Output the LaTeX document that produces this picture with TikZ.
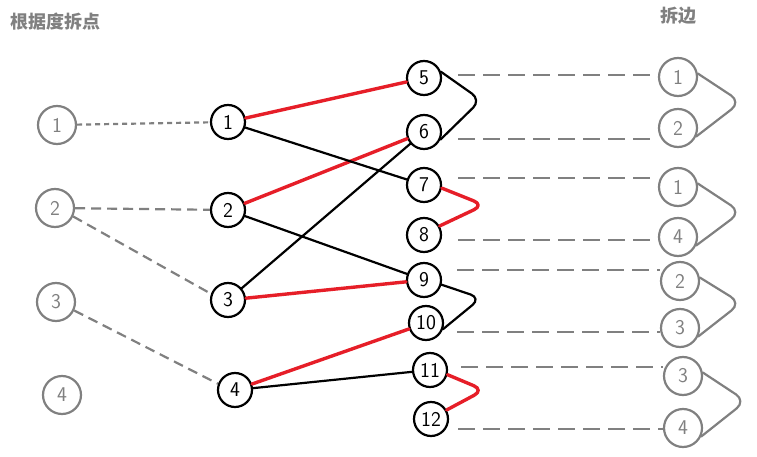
\documentclass[tikz,border=0pt]{standalone}
\usepackage{fontspec}
\newfontfamily\cjk{Noto Sans CJK SC}
\usetikzlibrary{positioning}

\definecolor{penGray}{RGB}{128,128,128}
\definecolor{penRed}{RGB}{230,30,40}

\begin{document}
\begin{tikzpicture}[x=1pt,y=-1pt,line cap=round,line join=round,
    every node/.style={font=\sffamily\fontsize{21}{21}\selectfont},
    blk/.style={circle, draw, line width=2.2pt, minimum size=34pt, inner sep=0pt},
    gry/.style={circle, draw=penGray, text=penGray, line width=2.2pt, minimum size=38pt, inner sep=0pt},
    redline/.style={draw=penRed, line width=3.4pt},
    blkline/.style={draw=black, line width=2.2pt},
    grayline/.style={draw=penGray, line width=2.2pt},
    dashline/.style={draw=penGray, line width=2.6pt, line cap=butt, dash pattern=on 17pt off 8pt},
    title/.style={font=\cjk\bfseries\fontsize{18}{18}\selectfont, text=penGray},
]
    \useasboundingbox (0,0) rectangle (757,457);

    % titles
    \node [title, anchor=west, inner sep=0pt] (t1) at (10,22) {根据度拆点};
    \node [title] (t2) at (678,16) {拆边};

    % left: original points
    \node [gry] (l1) at (57,125) {1};
    \node [gry] (l2) at (55,208) {2};
    \node [gry] (l3) at (56,302) {3};
    \node [gry] (l4) at (62,395) {4};

    % middle
    \node [blk] (m1) at (228,122) {1};
    \node [blk] (m2) at (228,210) {2};
    \node [blk] (m3) at (228,300) {3};
    \node [blk] (m4) at (235,390) {4};

    % split points
    \node [blk] (s5) at (424,78) {5};
    \node [blk] (s6) at (424,132) {6};
    \node [blk] (s7) at (424,185) {7};
    \node [blk] (s8) at (424,235) {8};
    \node [blk] (s9) at (424,280) {9};
    \node [blk] (s10) at (426,323) {10};
    \node [blk] (s11) at (430,370) {11};
    \node [blk] (s12) at (431,419) {12};

    % split edges
    \node [gry] (e1) at (678,77) {1};
    \node [gry] (e2) at (678,128) {2};
    \node [gry] (e3) at (678,187) {1};
    \node [gry] (e4) at (678,237) {4};
    \node [gry] (e5) at (680,281) {2};
    \node [gry] (e6) at (680,328) {3};
    \node [gry] (e7) at (683,376) {3};
    \node [gry] (e8) at (683,428) {4};

    % left dashed links
    \draw [grayline, line cap=butt, dash pattern=on 5pt off 4pt] (l1) -- (m1);
    \draw [grayline, line cap=butt, dash pattern=on 10pt off 6pt] (l2) -- (m2);
    \draw [grayline, line cap=butt, dash pattern=on 10pt off 6pt] (l2.-25) -- (m3.160);
    \draw [grayline, line cap=butt, dash pattern=on 10pt off 6pt] (l3.-25) -- (m4.160);

    % edges
    \path [redline] (m1) -- (s5) (m2) -- (s6) (m3) -- (s9) (m4) -- (s10);
    \path [blkline] (m1) -- (s7) (m2) -- (s9) (m3) -- (s6) (m4) -- (s11);

    % pairs
    \draw [blkline, rounded corners=11pt] (s5.20) -- (481,100) -- (s6.-25);
    \draw [redline, rounded corners=11pt] (s7.-10) -- (484,205) -- (s8.30);
    \draw [blkline, rounded corners=11pt] (s9.-15) -- (481,298) -- (s10.-20);
    \draw [redline, rounded corners=11pt] (s11.-15) -- (484,390) -- (s12.30);

    \draw [grayline, rounded corners=12pt] (e1.10) -- (741,102) -- (e2.-25);
    \draw [grayline, rounded corners=12pt] (e3.10) -- (741,212) -- (e4.-25);
    \draw [grayline, rounded corners=12pt] (e5.10) -- (741,303) -- (e6.-25);
    \draw [grayline, rounded corners=12pt] (e7.10) -- (746,401) -- (e8.-25);

    % dashed links to split edges
    \draw [dashline] ([xshift=16pt,yshift=3pt]s5.east) -- ([yshift=3pt]s5.east -| e1.west);
    \draw [dashline] ([xshift=16pt,yshift=-7pt]s6.east) -- ([yshift=-7pt]s6.east -| e2.west);
    \draw [dashline] ([xshift=16pt,yshift=7pt]s7.east) -- ([yshift=7pt]s7.east -| e3.west);
    \draw [dashline] ([xshift=16pt,yshift=-5pt]s8.east) -- ([yshift=-5pt]s8.east -| e4.west);
    \draw [dashline] ([xshift=15pt,yshift=10pt]s9.east) -- ([yshift=10pt]s9.east -| e5.west);
    \draw [dashline] ([xshift=13pt,yshift=-9pt]s10.east) -- ([yshift=-9pt]s10.east -| e6.west);
    \draw [dashline] ([xshift=13pt,yshift=3pt]s11.east) -- ([yshift=3pt]s11.east -| e7.west);
    \draw [dashline] ([xshift=9pt,yshift=-10pt]s12.east) -- ([yshift=-10pt]s12.east -| e8.west);
\end{tikzpicture}
\end{document}
